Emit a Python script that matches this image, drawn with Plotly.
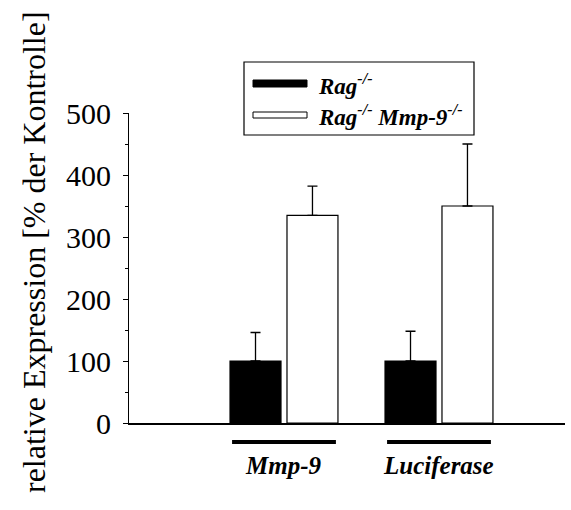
import plotly.graph_objects as go

categories = ["Mmp-9", "Luciferase"]
rag_values = [100, 100]
rag_err = [46, 48]
mmp_values = [335, 350]
mmp_err = [47, 100]
y_ticks = [0, 100, 200, 300, 400, 500]

FONT = "Liberation Serif"
xpos = list(range(len(categories)))

fig = go.Figure()
fig.add_trace(go.Bar(
    x=xpos, y=rag_values, name="Rag-/-",
    marker=dict(color="black", line=dict(color="black", width=1.2)),
    error_y=dict(type="data", symmetric=False, array=rag_err, arrayminus=[0]*len(rag_err),
                 color="black", thickness=1.3, width=5),
))
fig.add_trace(go.Bar(
    x=xpos, y=mmp_values, name="Rag-/- Mmp-9-/-",
    marker=dict(color="white", line=dict(color="black", width=1.2)),
    error_y=dict(type="data", symmetric=False, array=mmp_err, arrayminus=[0]*len(mmp_err),
                 color="black", thickness=1.3, width=5),
))

def px_x(p):
    return (p - 129) / (565 - 129)
def px_y(p):
    return (423 - p) / (423 - 113)

shapes = []
annotations = []
for i, c in enumerate(categories):
    shapes.append(dict(type="line", xref="x", yref="paper", x0=i - 0.335, x1=i + 0.335,
                       y0=px_y(442), y1=px_y(442), line=dict(color="black", width=4)))
    annotations.append(dict(xref="x", yref="paper", x=i, y=px_y(465), text=f"<b><i>{c}</i></b>",
                            showarrow=False, font=dict(family=FONT, size=25, color="black"),
                            xanchor="center", yanchor="middle"))

# legend box
shapes.append(dict(type="rect", xref="paper", yref="paper", x0=px_x(244), x1=px_x(474),
                   y0=px_y(135), y1=px_y(62), line=dict(color="black", width=1.2), fillcolor="white"))
shapes.append(dict(type="rect", xref="paper", yref="paper", x0=px_x(253), x1=px_x(307),
                   y0=px_y(87), y1=px_y(80), line=dict(color="black", width=1), fillcolor="black"))
shapes.append(dict(type="rect", xref="paper", yref="paper", x0=px_x(253), x1=px_x(307),
                   y0=px_y(118), y1=px_y(112), line=dict(color="black", width=1), fillcolor="white"))
annotations.append(dict(xref="paper", yref="paper", x=px_x(316), y=px_y(84),
                        text="<b><i>Rag</i></b><sup><b><i>-/-</i></b></sup>", showarrow=False,
                        xanchor="left", yanchor="middle", font=dict(family=FONT, size=23, color="black")))
annotations.append(dict(xref="paper", yref="paper", x=px_x(316), y=px_y(115),
                        text="<b><i>Rag</i></b><sup><b><i>-/-</i></b></sup><b><i> Mmp-9</i></b><sup><b><i>-/-</i></b></sup>",
                        showarrow=False, xanchor="left", yanchor="middle",
                        font=dict(family=FONT, size=23, color="black")))
# y axis title
annotations.append(dict(xref="paper", yref="paper", x=px_x(34), y=px_y(252),
                        text="relative Expression [% der Kontrolle]", textangle=-90,
                        showarrow=False, xanchor="center", yanchor="middle",
                        font=dict(family=FONT, size=32, color="black")))

fig.update_layout(
    width=571, height=510,
    margin=dict(l=129, r=6, t=113, b=87),
    paper_bgcolor="white", plot_bgcolor="white",
    barmode="group", bargap=0.265, bargroupgap=0.105,
    showlegend=False,
    shapes=shapes, annotations=annotations,
    font=dict(family=FONT, color="black"),
)
fig.update_xaxes(range=[-1.0, 1.813], showticklabels=False, ticks="", showgrid=False,
                 zeroline=False, showline=True, linecolor="black", linewidth=1.5)
fig.update_yaxes(range=[0, 500], tickvals=y_ticks, ticks="outside", ticklen=5, tickwidth=1,
                 tickcolor="black", showgrid=False, zeroline=False, showline=True,
                 linecolor="black", linewidth=1, tickfont=dict(family=FONT, size=30, color="black"),
                 ticklabelstandoff=6,
                 minor=dict(dtick=50, ticks="outside", ticklen=3, tickcolor="black", tickwidth=1))

fig.write_html("out.html")
